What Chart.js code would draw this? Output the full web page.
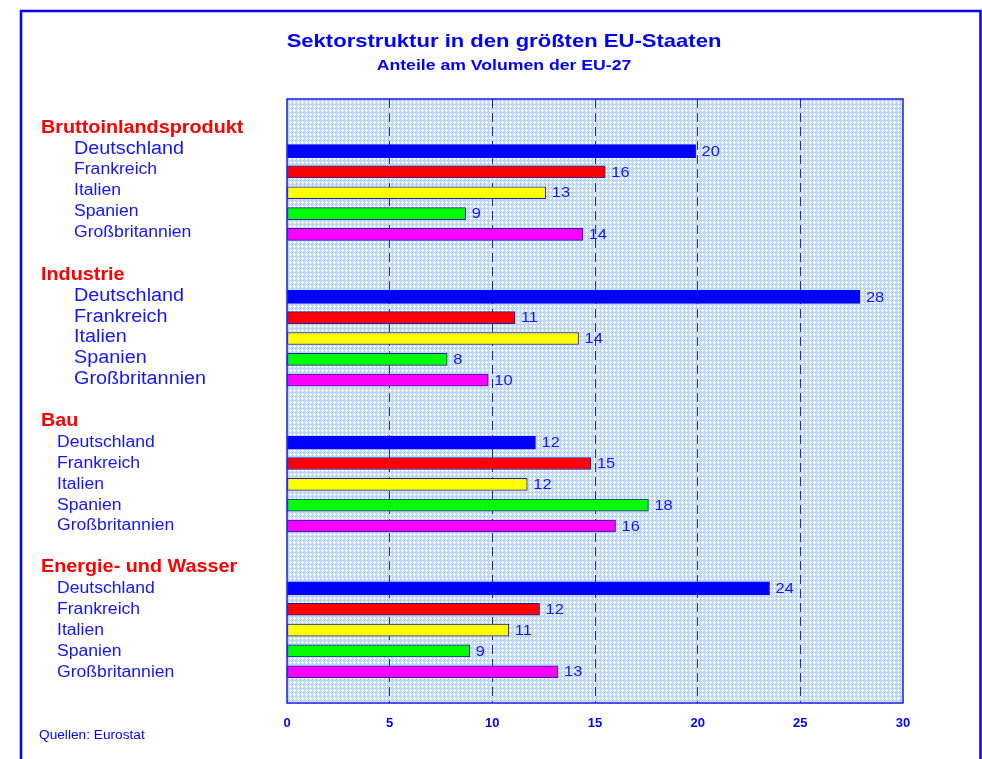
<!DOCTYPE html>
<html lang="de">
<head>
<meta charset="utf-8">
<title>Sektorstruktur in den größten EU-Staaten</title>
<script src="https://cdn.jsdelivr.net/npm/chart.js@4/dist/chart.umd.min.js"></script>
<style>
  html, body { margin: 0; padding: 0; background: #ffffff; }
  canvas { display: block; }
</style>
</head>
<body>
<canvas id="chart" width="982" height="759"></canvas>
<script>
/* data (bar lengths, labels rounded) */
const sectors = ["Bruttoinlandsprodukt", "Industrie", "Bau", "Energie- und Wasser"];
const countries = ["Deutschland", "Frankreich", "Italien", "Spanien", "Großbritannien"];
const bip = [19.9, 15.5, 12.6, 8.7, 14.4];
const industrie = [27.9, 11.1, 14.2, 7.8, 9.8];
const bau = [12.1, 14.8, 11.7, 17.6, 16.0];
const energie = [23.5, 12.3, 10.8, 8.9, 13.2];
const xTicks = [0, 5, 10, 15, 20, 25, 30];

const sectorValues = [bip, industrie, bau, energie];

/* styles */
const countryColors = ["#0000ff", "#ff0000", "#ffff00", "#00ff00", "#ff00ff"];
const textBlue = "#1414ff";
const fontFamily = "'Liberation Sans', Arial, Helvetica, sans-serif";
const stretch = 1.1;

const labelStyles = [
    { indent: 74, sizes: [18, 16, 16, 16, 16], shift: -2 },
    { indent: 74, sizes: [18, 18, 18, 18, 18], shift: -1 },
    { indent: 57, sizes: [16, 16, 16, 16, 16], shift: 0 },
    { indent: 57, sizes: [16, 16, 16, 16, 16], shift: 0.5 }
];

/* rows: blank, header, 5 countries ... blank at the end */
const rows = [""];
const rowInfo = [null];

sectors.forEach((sector, s) => {

    rows.push(sector);
    rowInfo.push({ type: "header", sector: s });

    countries.forEach((country, c) => {

        rows.push(country);
        rowInfo.push({ type: "country", sector: s, country: c });

    });

    rows.push("");
    rowInfo.push(null);

});

const datasets = countries.map((country, c) => {

    const data = rowInfo.map(info =>
        info && info.type === "country" && info.country === c
            ? sectorValues[info.sector][c]
            : null
    );

    return {
        label: country,
        data: data,
        backgroundColor: countryColors[c],
        borderColor: c === 0 ? "#0000ff" : "#2020a8",
        borderWidth: 1,
        borderSkipped: false,
        barThickness: c === 0 ? 13 : 12,
        grouped: false
    };

});

function drawText(ctx, text, x, y, font, color, align, sx) {

    ctx.save();
    ctx.font = font;
    ctx.fillStyle = color;
    ctx.textAlign = align;
    ctx.textBaseline = "middle";
    ctx.translate(x, y);
    ctx.scale(sx, 1);
    ctx.fillText(text, 0, 0);
    ctx.restore();

}

function makePattern(ctx) {

    const p = document.createElement("canvas");
    p.width = 4;
    p.height = 4;

    const pc = p.getContext("2d");
    pc.fillStyle = "#bad7f7";
    pc.fillRect(0, 0, 4, 4);
    pc.fillStyle = "#ffffff";
    pc.fillRect(2, 1, 1, 3);
    pc.fillRect(1, 2, 3, 1);

    return ctx.createPattern(p, "repeat");

}

const decorPlugin = {

    id: "decor",

    beforeDraw(chart) {

        const ctx = chart.ctx;
        const a = chart.chartArea;

        ctx.save();
        ctx.fillStyle = makePattern(ctx);
        ctx.fillRect(a.left, a.top, a.right - a.left, a.bottom - a.top);

        /* outer frame, open at the bottom */
        ctx.strokeStyle = "#0000ff";
        ctx.lineWidth = 2.5;
        ctx.beginPath();
        ctx.moveTo(21, chart.height);
        ctx.lineTo(21, 11);
        ctx.lineTo(980.5, 11);
        ctx.lineTo(980.5, chart.height);
        ctx.stroke();
        ctx.restore();

        drawText(ctx, "Sektorstruktur in den größten EU-Staaten", 504, 42,
            "bold 19px " + fontFamily, "#0000ff", "center", 1.16);

        drawText(ctx, "Anteile am Volumen der EU-27", 504, 66,
            "bold 14px " + fontFamily, "#0000ff", "center", 1.26);

        drawText(ctx, "Quellen: Eurostat", 39, 736,
            "12px " + fontFamily, "#0000ff", "left", 1.14);

    },

    afterDatasetsDraw(chart) {

        const ctx = chart.ctx;
        const a = chart.chartArea;
        const yScale = chart.scales.y;

        /* plot frame */
        ctx.save();
        ctx.strokeStyle = "#1a1ae0";
        ctx.lineWidth = 1.5;
        ctx.strokeRect(a.left, a.top, a.right - a.left, a.bottom - a.top);
        ctx.restore();

        /* value labels */
        chart.data.datasets.forEach((ds, i) => {

            chart.getDatasetMeta(i).data.forEach((bar, j) => {

                const v = ds.data[j];
                if (v === null) return;

                drawText(ctx, String(Math.round(v)), bar.x + 6, bar.y + 0.5,
                    "15px " + fontFamily, textBlue, "left", stretch);

            });

        });

        /* category labels on the left */
        rowInfo.forEach((info, i) => {

            if (!info) return;

            const y = yScale.getPixelForValue(i);
            const st = labelStyles[info.sector];

            if (info.type === "header") {

                drawText(ctx, sectors[info.sector], 41, y - 2 + info.sector * 0.6,
                    "bold 18px " + fontFamily, "#ff0000", "left", stretch);

            } else {

                drawText(ctx, countries[info.country], st.indent, y + st.shift,
                    st.sizes[info.country] + "px " + fontFamily, textBlue, "left", stretch);

            }

        });

    }

};

const ctx = document.getElementById("chart").getContext("2d");

new Chart(ctx, {

    type: "bar",

    data: {
        labels: rows,
        datasets: datasets
    },

    options: {

        indexAxis: "y",
        responsive: false,
        animation: false,
        devicePixelRatio: 1,

        layout: {
            padding: { left: 287, right: 79, top: 99, bottom: 26 }
        },

        scales: {

            x: {
                type: "linear",
                min: xTicks[0],
                max: xTicks[xTicks.length - 1],
                afterBuildTicks(scale) {
                    scale.ticks = xTicks.map(v => ({ value: v }));
                },
                afterFit(scale) {
                    scale.height = 30;
                },
                grid: {
                    drawTicks: false,
                    lineWidth: 1,
                    color: c => (c.tick && (c.tick.value === 0 || c.tick.value === 30))
                        ? "rgba(0,0,0,0)"
                        : "#2020ff"
                },
                border: {
                    display: false,
                    dash: [9, 5]
                },
                ticks: {
                    padding: 13,
                    color: "#0000ff",
                    font: { family: fontFamily, size: 13, weight: "bold" }
                }
            },

            y: {
                display: false
            }

        },

        plugins: {
            legend: { display: false },
            tooltip: { enabled: false },
            title: { display: false }
        }

    },

    plugins: [decorPlugin]

});
</script>
</body>
</html>
